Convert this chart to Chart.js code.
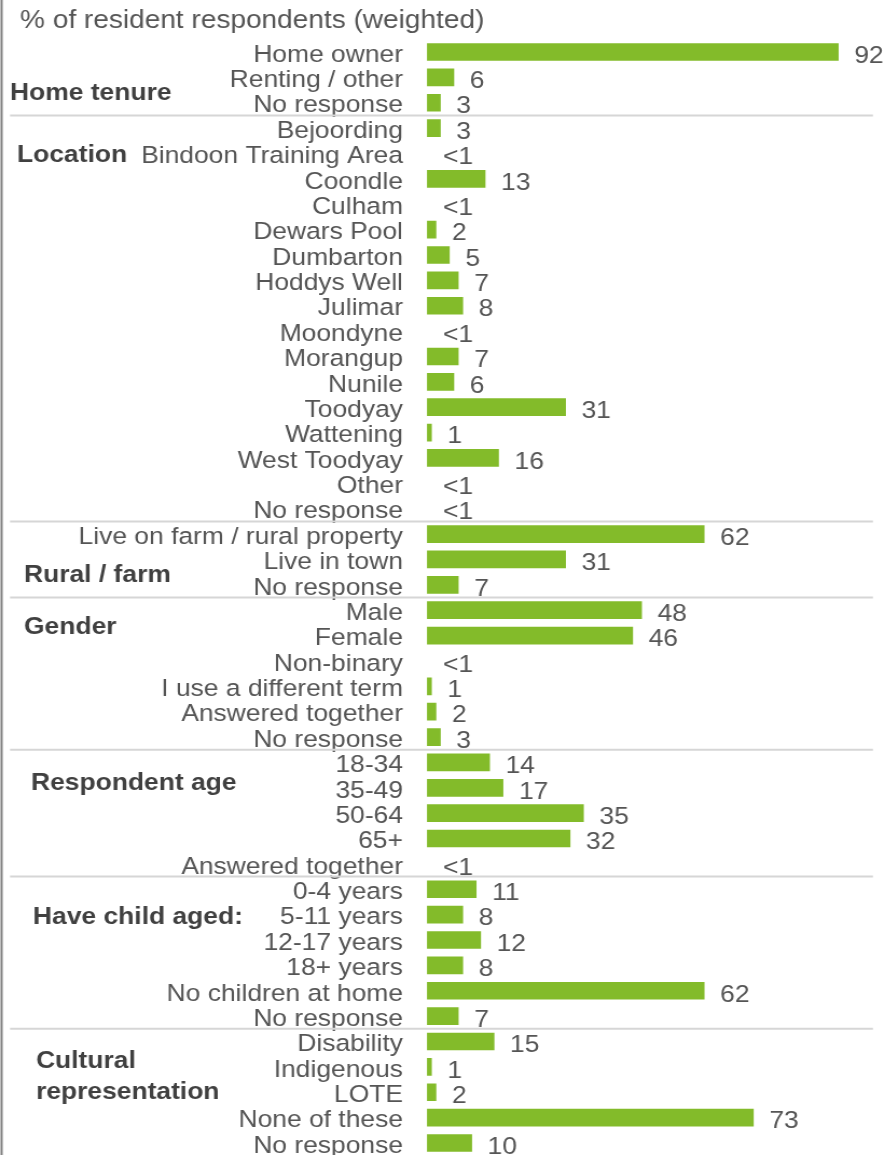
<!DOCTYPE html>
<html>
<head>
<meta charset="utf-8">
<script src="https://cdn.jsdelivr.net/npm/chart.js@4.4.1/dist/chart.umd.min.js"></script>
<style>
  html, body { margin: 0; padding: 0; background: #fff; overflow: hidden; }
  #wrap { width: 821px; height: 1160px; transform: scaleX(1.078); transform-origin: 0 0; }
</style>
</head>
<body>
<div id="wrap"><canvas id="profileChart" width="821" height="1160"></canvas></div>
<script>
const title = "% of resident respondents (weighted)";

const categories = [
  "Home owner", "Renting / other", "No response",
  "Bejoording", "Bindoon Training Area", "Coondle", "Culham", "Dewars Pool", "Dumbarton",
  "Hoddys Well", "Julimar", "Moondyne", "Morangup", "Nunile", "Toodyay", "Wattening",
  "West Toodyay", "Other", "No response",
  "Live on farm / rural property", "Live in town", "No response",
  "Male", "Female", "Non-binary", "I use a different term", "Answered together", "No response",
  "18-34", "35-49", "50-64", "65+", "Answered together",
  "0-4 years", "5-11 years", "12-17 years", "18+ years", "No children at home", "No response",
  "Disability", "Indigenous", "LOTE", "None of these", "No response"
];

// 0 = shown as "<1"
const values = [
  92, 6, 3,
  3, 0, 13, 0, 2, 5, 7, 8, 0, 7, 6, 31, 1, 16, 0, 0,
  62, 31, 7,
  48, 46, 0, 1, 2, 3,
  14, 17, 35, 32, 0,
  11, 8, 12, 8, 62, 7,
  15, 1, 2, 73, 10
];

const groupNames = [
  ["Home tenure"], ["Location"], ["Rural / farm"], ["Gender"],
  ["Respondent age"], ["Have child aged:"], ["Cultural", "representation"]
];
const groupSizes = [3, 16, 3, 6, 5, 6, 5];

// where each group heading sits: x in px, row offset inside the group
const groupPlace = [
  { x: 9.3, rows: [1.5] }, { x: 15.8, rows: [0.94] }, { x: 22.3, rows: [1.5] },
  { x: 22.3, rows: [0.55] }, { x: 28.8, rows: [0.7] }, { x: 30.6, rows: [1.0] },
  { x: 33.4, rows: [0.65, 1.9] }
];

const FONT = '"Liberation Sans", Arial, sans-serif';
const textGrey = '#555555';
const shift = 3;

function fmt(v) { return v === 0 ? '<1' : String(v); }

const decor = {
  id: 'decor',
  afterDatasetsDraw(chart) {
    const ctx = chart.ctx;
    const y = chart.scales.y;
    ctx.save();

    // frame line on the left
    ctx.fillStyle = '#808080';
    ctx.fillRect(0.5, 0, 2, chart.height);

    // title
    ctx.fillStyle = textGrey;
    ctx.font = '26px ' + FONT;
    ctx.textAlign = 'left';
    ctx.textBaseline = 'middle';
    ctx.fillText(title, 18.6, 21);

    // value labels
    ctx.font = '24.5px ' + FONT;
    chart.getDatasetMeta(0).data.forEach((bar, i) => {
      ctx.fillText(fmt(values[i]), bar.x + 14.8, bar.y + shift + 1);
    });

    // separators and group headings
    let start = 0;
    ctx.strokeStyle = '#d6d6d6';
    ctx.lineWidth = 2;
    groupSizes.forEach((n, g) => {
      if (g > 0) {
        const yy = y.getPixelForValue(start - 0.5);
        ctx.beginPath();
        ctx.moveTo(9.3, yy);
        ctx.lineTo(809.8, yy);
        ctx.stroke();
      }
      ctx.fillStyle = '#404040';
      ctx.font = 'bold 24.5px ' + FONT;
      groupNames[g].forEach((line, k) => {
        ctx.fillText(line, groupPlace[g].x, y.getPixelForValue(start + groupPlace[g].rows[k]) + shift);
      });
      start += n;
    });
    ctx.restore();
  }
};

new Chart(document.getElementById('profileChart'), {
  type: 'bar',
  data: {
    labels: categories,
    datasets: [{
      data: values,
      backgroundColor: (c) => c.raw === 0 ? 'rgba(0,0,0,0)' : '#83bb2a',
      barThickness: 17
    }]
  },
  options: {
    indexAxis: 'y',
    responsive: false,
    animation: false,
    layout: { padding: { top: 39.3, bottom: 4.3, left: 0, right: 10.2 } },
    plugins: { legend: { display: false }, tooltip: { enabled: false } },
    scales: {
      x: { display: false, min: 0, max: 100 },
      y: {
        grid: { display: false, drawTicks: false },
        border: { display: false },
        afterFit: (scale) => {
          scale.width = 396.1;
          scale.paddingTop = 0;
          scale.paddingBottom = 0;
        },
        ticks: {
          autoSkip: false,
          padding: 22.3,
          labelOffset: shift,
          color: textGrey,
          font: { family: FONT, size: 24.5 }
        }
      }
    }
  },
  plugins: [decor]
});
</script>
</body>
</html>
